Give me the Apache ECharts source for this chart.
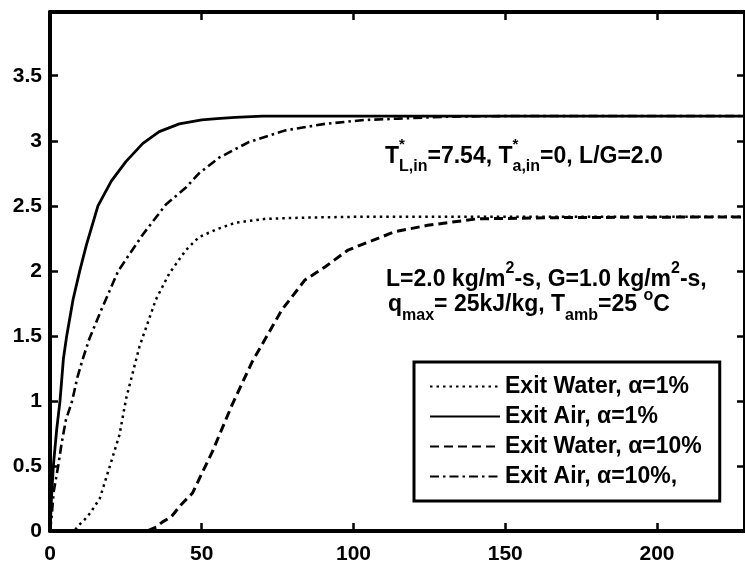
<!DOCTYPE html>
<html>
<head>
<meta charset="utf-8">
<script src="https://cdn.jsdelivr.net/npm/echarts@6/dist/echarts.min.js"></script>
<style>
  html, body { margin: 0; padding: 0; background: #fff; }
  #main { width: 745px; height: 565px; }
</style>
</head>
<body>
<div id="main"></div>
<script>
// series names (legend order)
var seriesNames = ['Exit Water, α=1%', 'Exit Air, α=1%', 'Exit Water, α=10%', 'Exit Air, α=10%,'];

// Exit Water, alpha = 1%  (dotted)
var waterX1 = [0, 8, 9.3, 11.5, 13.3, 16.4, 19.6, 22.9, 25.1, 29.5, 34.9, 39.3, 44.8, 49.1, 55, 61.1, 71, 85, 100, 229];
var waterY1 = [0, 0, 0.04, 0.09, 0.14, 0.25, 0.49, 0.74, 1.02, 1.42, 1.78, 1.98, 2.16, 2.26, 2.32, 2.37, 2.40, 2.41, 2.415, 2.415];

// Exit Air, alpha = 1%  (solid)
var airX1 = [0, 0.5, 1.1, 2.2, 3.3, 4.4, 5.5, 7.6, 9.8, 12, 15.8, 20.2, 25, 30.6, 36, 42.6, 50, 55, 61, 70, 100, 150, 229];
var airY1 = [0, 0.26, 0.5, 0.78, 1.0, 1.32, 1.5, 1.78, 2.0, 2.2, 2.5, 2.69, 2.84, 2.98, 3.07, 3.13, 3.16, 3.17, 3.18, 3.19, 3.19, 3.19, 3.19];

// Exit Water, alpha = 10%  (dashed)
var waterX10 = [0, 32, 35, 37.1, 40, 43.1, 46.9, 53.5, 60, 66.6, 76.4, 84, 90.6, 98.2, 105.9, 113.5, 124.4, 140.8, 171, 229];
var waterY10 = [0, 0, 0.03, 0.07, 0.11, 0.2, 0.29, 0.61, 0.97, 1.30, 1.70, 1.93, 2.03, 2.16, 2.23, 2.30, 2.35, 2.40, 2.41, 2.415];

// Exit Air, alpha = 10%  (dash-dot)
var airX10 = [0, 0.5, 1.2, 2.7, 3.8, 5.2, 7.3, 9, 10.9, 13, 16.9, 22.5, 30.6, 38.2, 44.8, 49.1, 55.7, 65.5, 77.5, 90.6, 103.7, 114.6, 130, 150, 229];
var airY10 = [0, 0.1, 0.3, 0.5, 0.67, 0.85, 1.0, 1.18, 1.33, 1.48, 1.70, 2.0, 2.28, 2.51, 2.64, 2.75, 2.87, 2.99, 3.08, 3.13, 3.16, 3.17, 3.185, 3.19, 3.19];

var xMax = 229, yMax = 3.99;

function pairs(xs, ys) {
  return xs.map(function (x, i) { return [x, ys[i]]; });
}

var FONT = '"Liberation Sans", Arial, Helvetica, sans-serif';
var MAIN = 23, SMALL = 16;

// text widths, used to put the asterisks over the subscripts
var ctx = document.createElement('canvas').getContext('2d');
function tw(s, size) {
  ctx.font = 'bold ' + size + 'px ' + FONT;
  return ctx.measureText(s).width;
}
var ann1X = 385;
var star1X = ann1X + tw('T', MAIN);
var star2X = star1X + tw('L,in', SMALL) + tw('=7.54, T', MAIN);

var chart = echarts.init(document.getElementById('main'));

function axisCommon(showLabel, isY) {
  return {
    type: 'value',
    min: 0,
    max: isY ? yMax : xMax,
    interval: isY ? 0.5 : 50,
    axisLine: { show: true, onZero: false, lineStyle: { color: '#000', width: 4 } },
    axisTick: { show: true, inside: true, length: 8, lineStyle: { color: '#000', width: 2.5 } },
    axisLabel: {
      show: showLabel,
      showMaxLabel: false,
      margin: isY ? 8 : 13,
      color: '#000',
      fontSize: 21,
      fontWeight: 'bold',
      fontFamily: FONT
    },
    splitLine: { show: false }
  };
}

var xBottom = axisCommon(true, false); xBottom.position = 'bottom';
var xTop = axisCommon(false, false); xTop.position = 'top';
var yLeft = axisCommon(true, true); yLeft.position = 'left';
var yRight = axisCommon(false, true); yRight.position = 'right';

var mainText = { fontSize: MAIN, fontWeight: 'bold', fontFamily: FONT, fill: '#000', verticalAlign: 'bottom' };
function rs(extra) { return Object.assign({}, mainText, extra); }

var option = {
  animation: false,
  backgroundColor: '#fff',
  color: ['#000'],
  grid: { left: 50, right: -4, top: 12, bottom: 31 },
  xAxis: [xBottom, xTop],
  yAxis: [yLeft, yRight],
  legend: {
    orient: 'vertical',
    left: 414,
    top: 362,
    padding: [13, 18, 13, 15],
    itemWidth: 70,
    itemHeight: 14,
    itemGap: 7,
    borderColor: '#000',
    borderWidth: 3,
    borderRadius: 0,
    backgroundColor: '#fff',
    itemStyle: { opacity: 0 },
    textStyle: { color: '#000', fontSize: 23, fontWeight: 'bold', fontFamily: FONT },
    data: seriesNames
  },
  series: [
    {
      name: seriesNames[0], type: 'line', symbol: 'none', data: pairs(waterX1, waterY1),
      lineStyle: { color: '#000', width: 2.5, type: [2.5, 4] }
    },
    {
      name: seriesNames[1], type: 'line', symbol: 'none', data: pairs(airX1, airY1),
      lineStyle: { color: '#000', width: 2.8, type: 'solid' }
    },
    {
      name: seriesNames[2], type: 'line', symbol: 'none', data: pairs(waterX10, waterY10),
      lineStyle: { color: '#000', width: 3, type: [9, 5] }
    },
    {
      name: seriesNames[3], type: 'line', symbol: 'none', data: pairs(airX10, airY10),
      lineStyle: { color: '#000', width: 2.6, type: [9, 4, 2.5, 4] }
    }
  ],
  graphic: [
    {
      type: 'text', left: ann1X, top: 145, z: 10,
      style: {
        text: '{m|T}{sub|L,in}{m|=7.54, T}{sub|a,in}{m|=0, L/G=2.0}',
        rich: {
          m: rs({ padding: [0, 0, 7, 0] }),
          sub: rs({ fontSize: SMALL })
        }
      }
    },
    { type: 'text', left: star1X, top: 137, z: 10, style: { text: '*', font: 'bold 15px ' + FONT, fill: '#000' } },
    { type: 'text', left: star2X, top: 137, z: 10, style: { text: '*', font: 'bold 15px ' + FONT, fill: '#000' } },
    {
      type: 'text', left: 386, top: 261, z: 10,
      style: {
        text: '{m|L=2.0 kg/m}{sup|2}{m|-s, G=1.0 kg/m}{sup|2}{m|-s,}',
        rich: {
          m: rs({}),
          sup: rs({ fontSize: SMALL, padding: [0, 0, 14, 0] })
        }
      }
    },
    {
      type: 'text', left: 388, top: 288, z: 10,
      style: {
        text: '{m|q}{sub|max}{m|= 25kJ/kg, T}{sub|amb}{m|=25 }{sup|o}{m|C}',
        rich: {
          m: rs({ padding: [0, 0, 8, 0] }),
          sub: rs({ fontSize: SMALL }),
          sup: rs({ fontSize: SMALL, padding: [0, 0, 20, 0] })
        }
      }
    }
  ]
};

chart.setOption(option);
</script>
</body>
</html>
